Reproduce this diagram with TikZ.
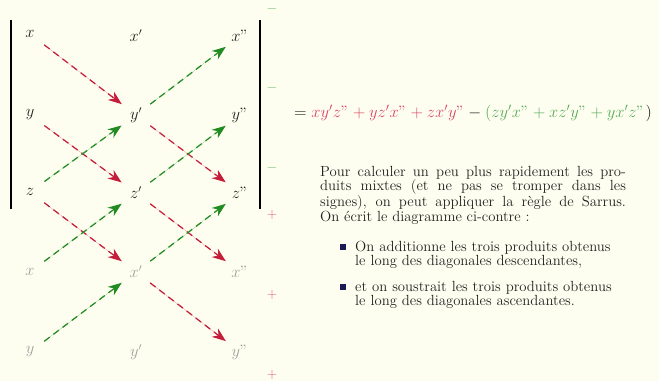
\documentclass[tikz,border=0pt]{standalone}
\usetikzlibrary{arrows.meta}
\definecolor{bgc}{HTML}{FEFEF0}
\definecolor{redA}{HTML}{C41E3A}
\definecolor{greenA}{HTML}{228B22}
\definecolor{redL}{HTML}{DC4260}
\definecolor{greenL}{HTML}{55AA55}
\definecolor{redS}{HTML}{E05C78}
\definecolor{greenS}{HTML}{6CBB6C}
\definecolor{grayT}{HTML}{A0A0A0}
\definecolor{navyB}{HTML}{1A1A55}
\definecolor{txt}{HTML}{222222}
\begin{document}
\begin{tikzpicture}[x=0.87pt,y=-0.87pt,
  lbl/.style={inner sep=0pt,text=txt,font=\fontsize{13.5}{16}\selectfont},
  glbl/.style={lbl,text=grayT},
  arr/.style={line width=1.1pt,dash pattern=on 6pt off 4pt,shorten <=15.5pt,shorten >=15.5pt,
    -{Stealth[length=12pt,width=9pt,inset=3.8pt]}},
  desc/.style={arr,draw=redA,fill=redA},
  asc/.style={arr,draw=greenA,fill=greenA},
  bar/.style={line width=2.6pt,draw=black},
  sgnm/.style={inner sep=0pt,text=greenS,font=\fontsize{12.5}{14}\selectfont},
  sgnp/.style={sgnm,text=redS},
  para/.style={inner sep=0pt,anchor=north west,text=txt,font=\fontsize{12.8}{12.2}\selectfont},
  bul/.style={fill=navyB,inner sep=0pt,minimum size=5.5pt}]
\useasboundingbox[fill=bgc] (0,0) rectangle (659,381);
% matrix entries
\node[lbl] (x1) at (30,34) {$x$};
\node[lbl] (x2) at (136,36) {$x'$};
\node[lbl] (x3) at (240,36) {$x"$};
\node[lbl] (y1) at (30,115) {$y$};
\node[lbl] (y2) at (136,115) {$y'$};
\node[lbl] (y3) at (240,115) {$y"$};
\node[lbl] (z1) at (30,192) {$z$};
\node[lbl] (z2) at (136,193) {$z'$};
\node[lbl] (z3) at (240,193) {$z"$};
\node[glbl] (u1) at (30,272) {$x$};
\node[glbl] (u2) at (136,272) {$x'$};
\node[glbl] (u3) at (240,272) {$x"$};
\node[glbl] (v1) at (30,352) {$y$};
\node[glbl] (v2) at (136,352) {$y'$};
\node[glbl] (v3) at (240,352) {$y"$};
% bars
\coordinate (lt) at (11,20); \coordinate (lb) at (11,209);
\coordinate (rt) at (260,20); \coordinate (rb) at (260,209);
\draw[bar] (lt) -- (lb);
\draw[bar] (rt) -- (rb);
% descending
\draw[desc] (x1.center) -- (y2.center);
\draw[desc] (y1.center) -- (z2.center);
\draw[desc] (z1.center) -- (u2.center);
\draw[desc] (y2.center) -- (z3.center);
\draw[desc] (z2.center) -- (u3.center);
\draw[desc] (u2.center) -- (v3.center);
% ascending
\draw[asc] (z1.center) -- (y2.center);
\draw[asc] (y2.center) -- (x3.center);
\draw[asc] (u1.center) -- (z2.center);
\draw[asc] (z2.center) -- (y3.center);
\draw[asc] (v1.center) -- (u2.center);
\draw[asc] (u2.center) -- (z3.center);
% signs
\node[sgnm] (m1) at (272,9) {$-$};
\node[sgnm] (m2) at (272,88) {$-$};
\node[sgnm] (m3) at (272,168) {$-$};
\node[sgnp] (p1) at (272,215) {$+$};
\node[sgnp] (p2) at (272,295) {$+$};
\node[sgnp] (p3) at (272,375) {$+$};
% equation
\node[inner sep=0pt,anchor=west,text=txt,font=\fontsize{14.1}{16}\selectfont] (eq) at (294,113)
 {$=\textcolor{redL}{xy'z"+yz'x"+zx'y"}-\textcolor{greenL}{(zy'x"+xz'y"+yx'z"}\mskip1mu)$};
% paragraph
\node[para,text width=266pt,align=justify] (par) at (320,166)
 {Pour calculer un peu plus rapidement les pro-\linebreak duits mixtes (et ne pas se tromper dans les\linebreak signes), on peut appliquer la règle de Sarrus.\linebreak On écrit le diagramme ci-contre :};
\node[bul] (b1) at (343,247) {};
\node[para,text width=260pt,align=left] (i1) at (355,241)
 {On additionne les trois produits obtenus\\ le long des diagonales descendantes,};
\node[bul] (b2) at (343,287) {};
\node[para,text width=260pt,align=left] (i2) at (355,281)
 {et on soustrait les trois produits obtenus\\ le long des diagonales ascendantes.};
\end{tikzpicture}
\end{document}
